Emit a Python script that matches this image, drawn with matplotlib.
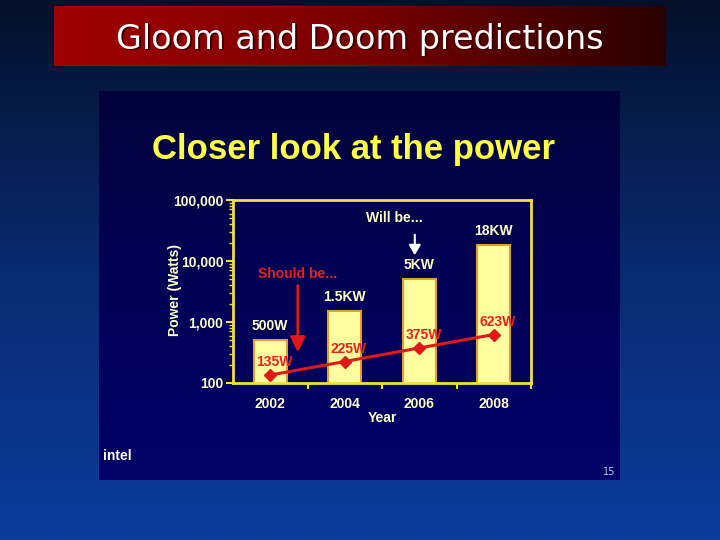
import numpy as np
import matplotlib
matplotlib.use('agg')
from matplotlib import pyplot as plt
from matplotlib.colors import LinearSegmentedColormap

years = ["2002", "2004", "2006", "2008"]
will_be = [500, 1500, 5000, 18000]
will_labels = ["500W", "1.5KW", "5KW", "18KW"]
should_be = [135, 225, 375, 623]
should_labels = ["135W", "225W", "375W", "623W"]
y_ticks = [100, 1000, 10000, 100000]
y_tick_labels = ["100", "1,000", "10,000", "100,000"]

W, H = 720, 540
fig = plt.figure(figsize=(7.2, 5.4), dpi=100)

# slide background, drawn in pixel coordinates
bg = fig.add_axes([0, 0, 1, 1])
bg.axis('off')

grad = np.linspace(0, 1, 256).reshape(-1, 1)
bg_cmap = LinearSegmentedColormap.from_list("bg", ["#04102a", "#0a2a70", "#0b3c9c"])
bg.imshow(grad, cmap=bg_cmap, extent=[0, W, H, 0], aspect='auto')

# red title banner
ban_cmap = LinearSegmentedColormap.from_list("ban", ["#a00000", "#7a0000", "#2a0000"])
bg.imshow(np.linspace(0, 1, 256).reshape(1, -1), cmap=ban_cmap,
          extent=[54, 666, 66, 6], aspect='auto')
bg.text(361.5, 40.5, "Gloom and Doom predictions", color="#3a0000", fontsize=24,
        ha='center', va='center', family="DejaVu Sans")
bg.text(360, 39, "Gloom and Doom predictions", color="white", fontsize=24,
        ha='center', va='center', family="DejaVu Sans")

# inner slide panel
pan_cmap = LinearSegmentedColormap.from_list("pan", ["#02033a", "#000055", "#000068"])
bg.imshow(grad, cmap=pan_cmap, extent=[99, 620, 480, 91], aspect='auto')
bg.text(353, 149, "Closer look at the power", color="#ffff44", fontsize=25,
        fontweight='bold', ha='center', va='center', family="Liberation Sans")
bg.text(103, 456, "intel", color="white", fontsize=10, fontweight='bold',
        ha='left', va='center', family="Liberation Sans")
bg.text(609, 472, "15", color="#c0c8e8", fontsize=7, ha='center', va='center')
bg.set_xlim(0, W)
bg.set_ylim(H, 0)

# the chart
ax = fig.add_axes([233 / W, 1 - 383 / H, 298 / W, 183 / H])
ax.patch.set_alpha(0)
x = np.arange(len(years))
txt = "#ffffc8"
fs = 10
ax.bar(x, will_be, width=0.44, color="#ffffa0", edgecolor="#e0a030", linewidth=1.5, zorder=2)
ax.plot(x, should_be, color="#e01818", linewidth=2.2, marker='D', markersize=6, zorder=3)
ax.set_yscale('log')
ax.set_ylim(100, 100000)
ax.set_xlim(-0.5, 3.5)

for i in range(len(years)):
    ax.annotate(will_labels[i], (x[i], will_be[i]), xytext=(0, 5), textcoords='offset points',
                ha='center', va='bottom', color=txt, fontsize=fs, fontweight='bold',
                family="Liberation Sans")
    ax.annotate(should_labels[i], (x[i], should_be[i]), xytext=(3, 4), textcoords='offset points',
                ha='center', va='bottom', color="#e82020", fontsize=fs, fontweight='bold',
                family="Liberation Sans", zorder=4)

ax.annotate("", xy=(0.37, 288), xytext=(0.37, 4400),
            arrowprops=dict(arrowstyle='-|>,head_length=0.9,head_width=0.45', color="#e01818", lw=2))
ax.text(0.37, 6100, "Should be...", color="#e82020", fontsize=fs, fontweight='bold',
        ha='center', va='center', family="Liberation Sans")
ax.annotate("", xy=(1.94, 11200), xytext=(1.94, 30000),
            arrowprops=dict(arrowstyle='-|>,head_length=0.6,head_width=0.35', color="white", lw=1.5))
ax.text(1.67, 50700, "Will be...", color=txt, fontsize=fs, fontweight='bold',
        ha='center', va='center', family="Liberation Sans")

for s in ax.spines.values():
    s.set_color("#f0e040")
    s.set_linewidth(2)

ax.set_yticks(y_ticks)
ax.set_yticklabels(y_tick_labels)
ax.yaxis.set_minor_locator(matplotlib.ticker.LogLocator(base=10, subs=np.arange(2, 10)))
ax.yaxis.set_minor_formatter(matplotlib.ticker.NullFormatter())
ax.tick_params(axis='y', which='major', colors="#f0e040", length=5, width=1.5,
               labelcolor=txt, labelsize=fs, pad=2)
ax.tick_params(axis='y', which='minor', colors="#f0e040", length=3, width=1)

ax.set_xticks(x + 0.5)
ax.set_xticklabels([])
ax.set_xticks(x, minor=True)
ax.set_xticklabels(years, minor=True)
ax.tick_params(axis='x', which='major', colors="#f0e040", length=4, width=1.5)
ax.tick_params(axis='x', which='minor', length=0, labelcolor=txt, labelsize=fs, pad=10)
for lab in ax.get_xticklabels(minor=True) + ax.get_yticklabels():
    lab.set_fontweight('bold')
    lab.set_family("Liberation Sans")

ax.set_xlabel("Year", color=txt, fontsize=fs, fontweight='bold', family="Liberation Sans")
ax.set_ylabel("Power (Watts)", color=txt, fontsize=fs, fontweight='bold', family="Liberation Sans")
ax.xaxis.set_label_coords(0.5, -(418 - 383) / 183, transform=ax.transAxes)
ax.yaxis.set_label_coords((175 - 233) / 298, 0.51)
ax.xaxis.label.set_va('center')
ax.yaxis.label.set_va('center')

fig.savefig("out.png", dpi=100)
